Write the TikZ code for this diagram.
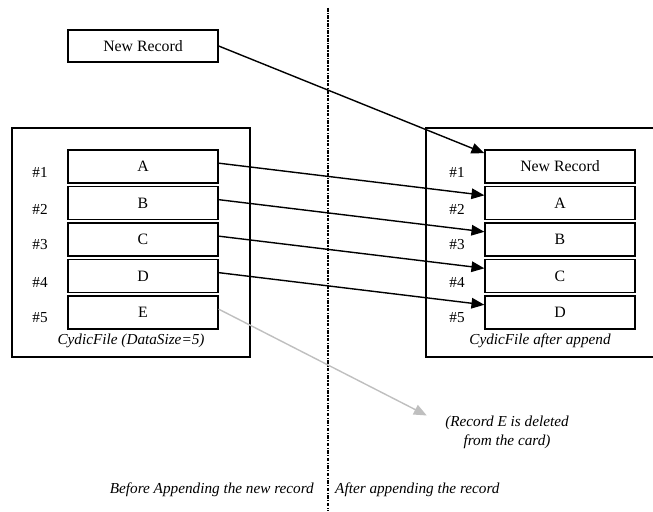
\documentclass[tikz,border=0pt]{standalone}
\usepackage{fontspec}
\setmainfont{Liberation Serif}
\usetikzlibrary{arrows.meta, positioning}
\tikzset{
  recbox/.style={rectangle, draw=black, line width=1.1pt, minimum width=4.5cm,
                 minimum height=0.99cm, inner sep=0pt, font=\fontsize{13.5}{15}\selectfont},
  filebox/.style={rectangle, draw=black, line width=0.9pt, inner sep=0pt},
  slot/.style={font=\fontsize{13}{15}\selectfont, inner sep=0pt},
  note/.style={font=\fontsize{13}{16}\selectfont\itshape, inner sep=0pt, align=center},
  arrow/.style={-{Triangle[length=11pt, width=9pt]}, line width=1.2pt, draw=black},
  gone/.style={arrow, draw=black!25},
  divider/.style={line width=1.2pt, dash pattern=on 3pt off 1.2pt on 1pt off 1.2pt},
}

\begin{document}
\begin{tikzpicture}[x=0.03cm, y=-0.03cm, node distance=0.066cm]
  \useasboundingbox (0,0) rectangle (653,511);

  % --- divider between before / after ---
  \coordinate (divtop) at (328,8);
  \coordinate (divbot) at (328,511);
  \draw[divider] (divtop) -- (divbot);

  % --- file boxes ---
  \node[filebox, minimum width=7.14cm, minimum height=6.87cm] (before) at (131,242.5) {};
  \node[filebox, minimum width=7.02cm, minimum height=6.87cm] (after) at (543,242.5) {};

  % --- record to append ---
  \node[recbox, minimum height=0.96cm] (newrec) at (143,46) {New Record};

  % --- before append ---
  \node[recbox] (lA) at (143,166.5) {A};
  \node[recbox, below=of lA] (lB) {B};
  \node[recbox, below=of lB] (lC) {C};
  \node[recbox, below=of lC] (lD) {D};
  \node[recbox, below=of lD] (lE) {E};

  % --- after append ---
  \node[recbox] (rNew) at (560,166.5) {New Record};
  \node[recbox, below=of rNew] (rA) {A};
  \node[recbox, below=of rA] (rB) {B};
  \node[recbox, below=of rB] (rC) {C};
  \node[recbox, below=of rC] (rD) {D};

  % --- slot numbers ---
  \foreach \i/\y in {1/172, 2/209, 3/245, 4/282, 5/318} {
    \node[slot] (ls\i) at (40,\y) {\#\i};
    \node[slot] (rs\i) at (457,\y) {\#\i};
  }

  % --- captions ---
  \node[note] (lcap) at (131,341) {CydicFile (DataSize=5)};
  \node[note] (rcap) at (540,341) {CydicFile after append};
  \node[note] (del) at (507,432) {(Record E is deleted\\from the card)};
  \node[note, anchor=east] (bcap) at (314,490) {Before Appending the new record};
  \node[note, anchor=west] (acap) at (335,490) {After appending the record};

  % --- edges ---
  \draw[arrow] (newrec.east) -- ([yshift=0.4cm]rNew.west);
  \draw[arrow] ([yshift=0.1cm]lA.east) -- ([yshift=0.23cm]rA.west);
  \draw[arrow] ([yshift=0.1cm]lB.east) -- ([yshift=0.23cm]rB.west);
  \draw[arrow] ([yshift=0.1cm]lC.east) -- ([yshift=0.23cm]rC.west);
  \draw[arrow] ([yshift=0.1cm]lD.east) -- ([yshift=0.23cm]rD.west);
  \draw[gone] ([yshift=0.1cm]lE.east) -- ([xshift=-0.55cm]del.north west);

\end{tikzpicture}
\end{document}
